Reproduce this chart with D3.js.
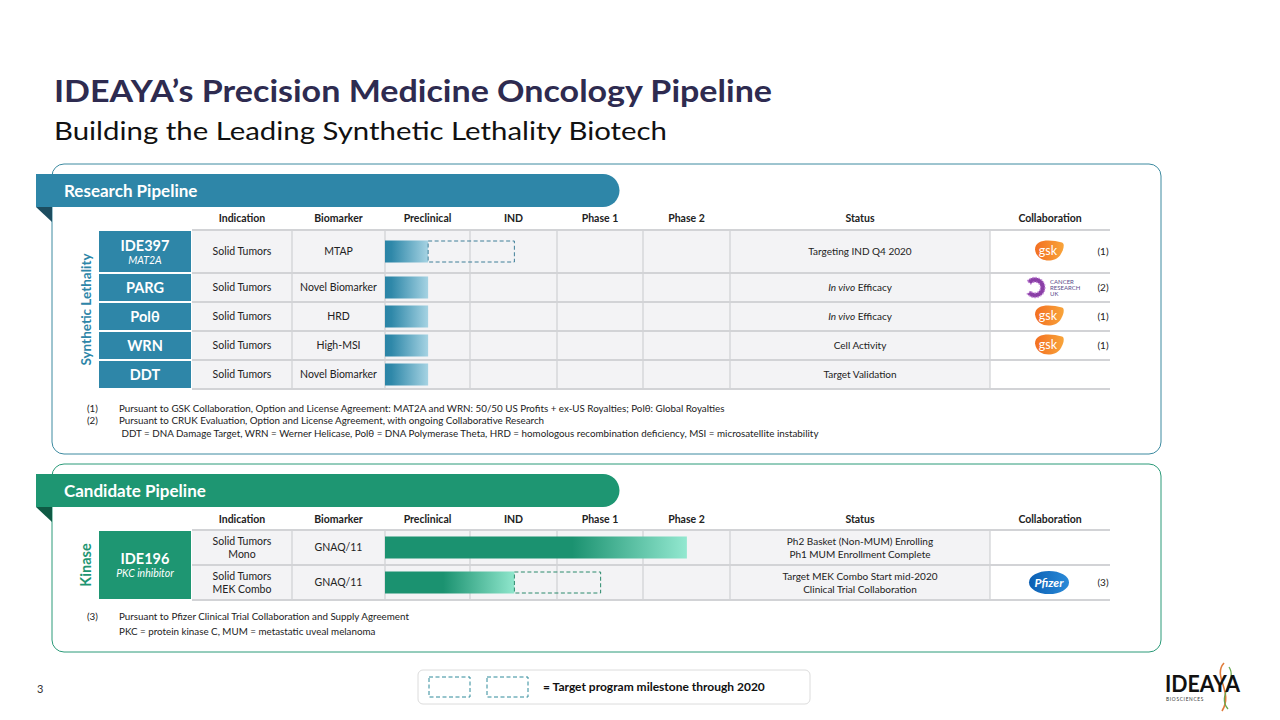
<!DOCTYPE html>
<html><head><meta charset="utf-8">
<script src="https://cdn.jsdelivr.net/npm/d3@7"></script>
<style>body{margin:0;background:#fff} svg{display:block} text{font-family:Lato,"Open Sans",sans-serif}</style>
</head><body><svg id="c" width="1280" height="720"></svg>
<script>
// ---------------- DATA ----------------
const stages = ["Preclinical", "IND", "Phase 1", "Phase 2"];
const headers = ["Indication", "Biomarker", "Preclinical", "IND", "Phase 1", "Phase 2", "Status", "Collaboration"];

const researchPrograms = ["IDE397", "PARG", "Polθ", "WRN", "DDT"];
const researchTargets = ["MAT2A", "", "", "", ""];
const researchIndications = [["Solid Tumors"], ["Solid Tumors"], ["Solid Tumors"], ["Solid Tumors"], ["Solid Tumors"]];
const researchBiomarkers = ["MTAP", "Novel Biomarker", "HRD", "High-MSI", "Novel Biomarker"];
const researchProgress = [0.5, 0.5, 0.5, 0.5, 0.5];      // in stage units (0 = start of Preclinical)
const researchMilestone = [1.5, null, null, null, null];
const researchStatus = [["Targeting IND Q4 2020"], ["*In vivo* Efficacy"], ["*In vivo* Efficacy"], ["Cell Activity"], ["Target Validation"]];
const researchPartners = ["gsk", "cruk", "gsk", "gsk", ""];
const researchNotes = ["(1)", "(2)", "(1)", "(1)", ""];
const researchFootnotes = [
  ["(1)", "Pursuant to GSK Collaboration, Option and License Agreement: MAT2A and WRN: 50/50 US Profits + ex-US Royalties; Polθ: Global Royalties"],
  ["(2)", "Pursuant to CRUK Evaluation, Option and License Agreement, with ongoing Collaborative Research"],
  ["", " DDT = DNA Damage Target, WRN = Werner Helicase, Polθ = DNA Polymerase Theta, HRD = homologous recombination deficiency, MSI = microsatellite instability"]
];

const candidateProgram = "IDE196";
const candidateTarget = "PKC inhibitor";
const candidateIndications = [["Solid Tumors", "Mono"], ["Solid Tumors", "MEK Combo"]];
const candidateBiomarkers = ["GNAQ/11", "GNAQ/11"];
const candidateProgress = [3.5, 1.5];
const candidateMilestone = [null, 2.5];
const candidateStatus = [["Ph2 Basket (Non-MUM) Enrolling", "Ph1 MUM Enrollment Complete"], ["Target MEK Combo Start mid-2020", "Clinical Trial Collaboration"]];
const candidatePartners = ["", "pfizer"];
const candidateNotes = ["", "(3)"];
const candidateFootnotes = [
  ["(3)", "Pursuant to Pfizer Clinical Trial Collaboration and Supply Agreement"],
  ["", "PKC = protein kinase C, MUM = metastatic uveal melanoma"]
];

// ---------------- LAYOUT ----------------
const svg = d3.select("#c");
svg.append("rect").attr("width", 1280).attr("height", 720).attr("fill", "#fff");
const defs = svg.append("defs");

function lg(id, stops) {
  const g = defs.append("linearGradient").attr("id", id).attr("x1", 0).attr("x2", 1).attr("y1", 0).attr("y2", 0);
  stops.forEach(s => g.append("stop").attr("offset", s[0]).attr("stop-color", s[1]));
}
lg("gTeal", [[0, "#2a84a6"], [0.15, "#2f88a9"], [1, "#a6d3e3"]]);
lg("gGreen0", [[0, "#1b9270"], [0.62, "#1b9270"], [1, "#93e8d0"]]);
lg("gGreen1", [[0, "#1b9270"], [0.45, "#1b9270"], [1, "#8fe6cc"]]);
lg("gGsk", [[0, "#f36f21"], [1, "#f8a43a"]]);
lg("gPfz", [[0, "#0b5fb3"], [1, "#2a8ad8"]]);

// Title
svg.append("text").attr("x", 54).attr("y", 102).attr("font-size", 31).attr("font-weight", 700)
  .attr("fill", "#2e2b50").attr("textLength", 718).attr("lengthAdjust", "spacingAndGlyphs")
  .text("IDEAYA’s Precision Medicine Oncology Pipeline");
svg.append("text").attr("x", 54).attr("y", 140).attr("font-size", 25)
  .attr("fill", "#111").attr("textLength", 613).attr("lengthAdjust", "spacingAndGlyphs")
  .text("Building the Leading Synthetic Lethality Biotech");

// Column edges
const colEdges = [192, 292, 385, 470, 557, 643, 730, 990, 1110];
const xStage = d3.scaleLinear().domain([0, stages.length]).range([colEdges[2], colEdges[6]]);

function addRich(sel, str) {
  const parts = str.split("*");
  parts.forEach((p, i) => { if (p) sel.append("tspan").attr("font-style", i % 2 ? "italic" : "normal").text(p); });
}

function multiline(g, x, yc, lines, opts) {
  const lh = opts.lh || 12;
  const fs = opts.fs || 10;
  const t = g.append("text").attr("x", x).attr("text-anchor", "middle").attr("font-size", fs)
    .attr("fill", opts.fill || "#222");
  const y0 = yc - (lines.length - 1) * lh / 2 + fs * 0.35;
  lines.forEach((l, i) => {
    const ts = t.append("tspan").attr("x", x).attr("y", y0 + i * lh);
    addRich(ts, l);
  });
  return t;
}

function drawLogo(g, kind, cx, cy) {
  if (kind === "gsk") {
    g.append("path").attr("d", `M${cx-14},${cy-2} C${cx-14},${cy-13} ${cx+2},${cy-12} ${cx+13},${cy-9} C${cx+16},${cy-8} ${cx+15},${cy-2} ${cx+11},${cy+4} C${cx+6},${cy+11} ${cx-12},${cy+12} ${cx-14},${cy-2} Z`)
      .attr("fill", "url(#gGsk)");
    g.append("text").attr("x", cx - 1).attr("y", cy + 3).attr("text-anchor", "middle").attr("font-size", 12.5)
      .attr("fill", "#fff").attr("font-family", "'DejaVu Sans',sans-serif").text("gsk");
  } else if (kind === "cruk") {
    const arc = d3.arc()({ innerRadius: 5.5, outerRadius: 10, startAngle: 0.7, endAngle: Math.PI * 2 - 0.7 });
    g.append("path").attr("d", arc).attr("transform", `translate(${cx-14},${cy}) rotate(-90)`)
      .attr("fill", "#8a3fa6").attr("stroke", "#c58bd8").attr("stroke-width", 1.4).attr("stroke-dasharray", "1.5,1.5");
    ["CANCER", "RESEARCH", "UK"].forEach((w, i) => g.append("text").attr("x", cx + 1).attr("y", cy - 4 + i * 6)
      .attr("font-size", 6).attr("fill", "#5a4b8a").text(w));
  } else if (kind === "pfizer") {
    g.append("ellipse").attr("cx", cx).attr("cy", cy).attr("rx", 20).attr("ry", 11.5).attr("fill", "url(#gPfz)");
    g.append("text").attr("x", cx).attr("y", cy + 4).attr("text-anchor", "middle").attr("font-size", 12)
      .attr("font-style", "italic").attr("font-weight", 700).attr("fill", "#fff").text("Pfizer");
  }
}

function drawPanel(p) {
  const g = svg.append("g");
  // border
  g.append("rect").attr("x", 52).attr("y", p.top).attr("width", 1109).attr("height", p.height).attr("rx", 12)
    .attr("fill", "#fff").attr("stroke", p.border).attr("stroke-width", 1);
  // fold triangle + banner
  g.append("path").attr("d", `M36,${p.top+43} L52,${p.top+43} L52,${p.top+58} Z`).attr("fill", p.dark);
  const bt = p.top + 10, bh = 33, bx1 = 619;
  g.append("path").attr("d", `M36,${bt} L${bx1-16},${bt} A16.5,16.5 0 0 1 ${bx1-16},${bt+bh} L36,${bt+bh} Z`).attr("fill", p.color);
  g.append("text").attr("x", 64).attr("y", bt + bh / 2 + 6).attr("font-size", 17).attr("font-weight", 700)
    .attr("fill", "#fff").text(p.title);

  // headers
  headers.forEach((h, i) => {
    g.append("text").attr("x", (colEdges[i] + colEdges[i + 1]) / 2).attr("y", p.headerY + 3.5)
      .attr("text-anchor", "middle").attr("font-size", 10.5).attr("font-weight", 700).attr("fill", "#222").text(h);
  });

  // rows
  const ys = [p.rowTop];
  p.rowH.forEach(h => ys.push(ys[ys.length - 1] + h));
  const yBottom = ys[ys.length - 1];
  // cell backgrounds
  g.append("rect").attr("x", colEdges[0]).attr("y", p.rowTop).attr("width", colEdges[7] - colEdges[0])
    .attr("height", yBottom - p.rowTop).attr("fill", "#f3f3f5");
  // vertical lines
  colEdges.slice(1, 8).forEach(x => g.append("line").attr("x1", x).attr("x2", x).attr("y1", p.rowTop).attr("y2", yBottom)
    .attr("stroke", "#cfd0d3").attr("stroke-width", 1.2));
  // horizontal lines
  ys.forEach(y => g.append("line").attr("x1", colEdges[0]).attr("x2", colEdges[8]).attr("y1", y).attr("y2", y)
    .attr("stroke", "#d2d3d6").attr("stroke-width", 2));

  // name boxes
  p.names.forEach(n => {
    g.append("rect").attr("x", 99).attr("y", ys[n.r0] + 1).attr("width", 92).attr("height", ys[n.r1] - ys[n.r0] - 2)
      .attr("fill", p.color);
    const yc = (ys[n.r0] + ys[n.r1]) / 2;
    if (n.sub) {
      g.append("text").attr("x", 145).attr("y", yc - 1).attr("text-anchor", "middle").attr("font-size", 14.5)
        .attr("font-weight", 700).attr("fill", "#fff").text(n.name);
      g.append("text").attr("x", 145).attr("y", yc + 12).attr("text-anchor", "middle").attr("font-size", 10.5)
        .attr("font-style", "italic").attr("fill", "#fff").text(n.sub);
    } else {
      g.append("text").attr("x", 145).attr("y", yc + 5).attr("text-anchor", "middle").attr("font-size", 14.5)
        .attr("font-weight", 700).attr("fill", "#fff").text(n.name);
    }
  });

  // row contents
  p.indications.forEach((ind, i) => {
    const yc = (ys[i] + ys[i + 1]) / 2;
    multiline(g, (colEdges[0] + colEdges[1]) / 2, yc, ind, { lh: 13, fs: 10.5 });
    multiline(g, (colEdges[1] + colEdges[2]) / 2, yc, [p.biomarkers[i]], { fs: 10.5 });
    multiline(g, (colEdges[6] + colEdges[7]) / 2, yc, p.status[i], { lh: 13, fs: 10 });
    const bh = p.barH;
    g.append("rect").attr("x", xStage(0)).attr("y", yc - bh / 2).attr("width", xStage(p.progress[i]) - xStage(0))
      .attr("height", bh).attr("fill", `url(#${p.grad[i]})`);
    if (p.milestone[i] != null) {
      g.append("rect").attr("x", xStage(p.progress[i])).attr("y", yc - bh / 2 + 0.5)
        .attr("width", xStage(p.milestone[i]) - xStage(p.progress[i])).attr("height", bh - 1)
        .attr("fill", "none").attr("stroke", p.dash).attr("stroke-width", 1).attr("stroke-dasharray", "4,2.5");
    }
    if (p.partners[i]) drawLogo(g, p.partners[i], 1049, yc);
    if (p.notes[i]) g.append("text").attr("x", 1103).attr("y", yc + 3.5).attr("text-anchor", "middle")
      .attr("font-size", 10).attr("fill", "#222").text(p.notes[i]);
  });

  // side label
  g.append("text").attr("transform", `translate(91,${(p.rowTop + yBottom) / 2}) rotate(-90)`).attr("text-anchor", "middle")
    .attr("font-size", p.sideFs).attr("font-weight", 700).attr("fill", p.color).text(p.side);

  // footnotes
  p.footnotes.forEach((f, i) => {
    const y = p.footY + i * p.footLh + 3.5;
    if (f[0]) g.append("text").attr("x", 87).attr("y", y).attr("font-size", 9.8).attr("fill", "#222").text(f[0]);
    g.append("text").attr("x", 119).attr("y", y).attr("font-size", 9.8).attr("fill", "#222").attr("xml:space", "preserve").text(f[1]);
  });
}

drawPanel({
  top: 164, height: 290, color: "#2e86a8", dark: "#1c4d60", border: "#3c8aa0", dash: "#3f7f98",
  title: "Research Pipeline", headerY: 218, rowTop: 230, rowH: [43, 29, 29, 29, 29], barH: 22,
  names: researchPrograms.map((n, i) => ({ name: n, sub: researchTargets[i], r0: i, r1: i + 1 })),
  indications: researchIndications, biomarkers: researchBiomarkers, status: researchStatus,
  progress: researchProgress, milestone: researchMilestone, grad: researchPrograms.map(() => "gTeal"),
  partners: researchPartners, notes: researchNotes, side: "Synthetic Lethality", sideFs: 13.5,
  footnotes: researchFootnotes, footY: 408, footLh: 12.7
});

drawPanel({
  top: 464, height: 188, color: "#1e9672", dark: "#0f5a44", border: "#2a9a78", dash: "#2a8a6c",
  title: "Candidate  Pipeline", headerY: 519, rowTop: 530, rowH: [35, 35], barH: 22,
  names: [{ name: candidateProgram, sub: candidateTarget, r0: 0, r1: 2 }],
  indications: candidateIndications, biomarkers: candidateBiomarkers, status: candidateStatus,
  progress: candidateProgress, milestone: candidateMilestone, grad: ["gGreen0", "gGreen1"],
  partners: candidatePartners, notes: candidateNotes, side: "Kinase", sideFs: 14.5,
  footnotes: candidateFootnotes, footY: 616, footLh: 15
});

// Legend
const lgG = svg.append("g");
lgG.append("rect").attr("x", 418).attr("y", 670).attr("width", 392).attr("height", 34).attr("rx", 5)
  .attr("fill", "#fff").attr("stroke", "#dcdcdc");
[429, 487].forEach(x => lgG.append("rect").attr("x", x).attr("y", 677).attr("width", 41).attr("height", 20)
  .attr("fill", "none").attr("stroke", "#2e8a9a").attr("stroke-dasharray", "4,2.5"));
lgG.append("text").attr("x", 543).attr("y", 691).attr("font-size", 12).attr("font-weight", 700).attr("fill", "#111")
  .text("= Target program milestone through 2020");

// page number
svg.append("text").attr("x", 37).attr("y", 693).attr("font-size", 11).attr("fill", "#333").text("3");

// IDEAYA logo
const lo = svg.append("g");
lo.append("path").attr("d", "M1224,663 C1212,676 1234,692 1222,711").attr("fill", "none").attr("stroke", "#e07b3a").attr("stroke-width", 1.6);
lo.append("path").attr("d", "M1229,667 C1238,680 1216,696 1228,709").attr("fill", "none").attr("stroke", "#6aa84f").attr("stroke-width", 1.3);
lo.append("text").attr("x", 1165).attr("y", 692).attr("font-size", 23).attr("font-weight", 700).attr("fill", "#111")
  .attr("textLength", 75).attr("lengthAdjust", "spacingAndGlyphs").text("IDEAYA");
lo.append("text").attr("x", 1166).attr("y", 701).attr("font-size", 4.8).attr("fill", "#333").attr("letter-spacing", 0.7).text("BIOSCIENCES");
</script></body></html>
